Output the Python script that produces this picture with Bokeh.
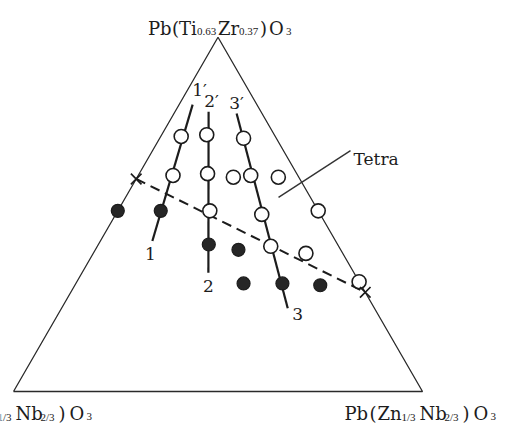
import numpy as np
from bokeh.plotting import figure
from bokeh.models import Range1d
from bokeh.core.properties import value
from bokeh.embed import file_html
from bokeh.resources import INLINE

H = np.sqrt(3) / 2  # height of the unit composition triangle

# Compositions given as mole fractions of Pb(Ti0.63Zr0.37)O3 (apex) and
# Pb(Zn1/3Nb2/3)O3 (right corner); the rest is Pb(Mg1/3Nb2/3)O3.
open_pzt = [0.72, 0.61, 0.725, 0.615, 0.51, 0.715, 0.605, 0.61, 0.605, 0.50, 0.51, 0.41, 0.39, 0.31]
open_pzn = [0.05, 0.085, 0.11, 0.167, 0.225, 0.205, 0.235, 0.275, 0.345, 0.357, 0.49, 0.424, 0.52, 0.69]
filled_pzt = [0.51, 0.51, 0.415, 0.40, 0.305, 0.305, 0.30]
filled_pzn = [0.0, 0.105, 0.27, 0.35, 0.41, 0.505, 0.60]

# composition lines 1-1', 2-2', 3-3' (ends at the primed / unprimed label)
line_names = ["1", "2", "3"]
line_top_pzt = [0.81, 0.79, 0.785]
line_top_pzn = [0.033, 0.082, 0.153]
line_bot_pzt = [0.425, 0.335, 0.235]
line_bot_pzn = [0.127, 0.309, 0.553]

# morphotropic boundary (dashed) end points on the two edges
mpb_pzt = [0.60, 0.28]
mpb_pzn = [0.0, 0.72]


def to_xy(pzt, pzn):
    pzt = np.asarray(pzt, float)
    pzn = np.asarray(pzn, float)
    return pzn + pzt / 2, pzt * H


p = figure(width=505, height=426, output_backend="svg", toolbar_location=None,
           x_range=Range1d(-13 / 409, 492 / 409), y_range=Range1d(-35 / 409, 391 / 409),
           x_axis_location=None, y_axis_location=None, min_border=0,
           outline_line_color=None, background_fill_color="white")
p.grid.visible = False

INK = "#1c1c1c"

# triangle frame
p.line([0, 1, 0.5, 0], [0, 0, H, 0], line_color="#2a2a2a", line_width=1.3)

# dashed boundary
mx, my = to_xy(mpb_pzt, mpb_pzn)
p.line(mx, my, line_color=INK, line_width=2, line_dash="10 6")

# composition lines
tx, ty = to_xy(line_top_pzt, line_top_pzn)
bx, by = to_xy(line_bot_pzt, line_bot_pzn)
p.segment(tx, ty, bx, by, line_color=INK, line_width=2.2)

# "Tetra" pointer
tetra_x, tetra_y = to_xy([0.548], [0.374])
p.segment(tetra_x, tetra_y, [0.824], [0.589], line_color="#333333", line_width=1.4)
p.text([0.824], [0.589], text=["Tetra"], x_offset=3, y_offset=8,
       text_font=value("DejaVu Serif"), text_font_size="17px", text_color=INK,
       text_baseline="alphabetic", text_align="left")

# measured points
ox, oy = to_xy(open_pzt, open_pzn)
p.scatter(ox, oy, marker="circle", size=14, fill_color="white", line_color=INK, line_width=1.6)
fx, fy = to_xy(filled_pzt, filled_pzn)
p.scatter(fx, fy, marker="circle", size=13, fill_color="#262626", line_color=INK, line_width=1.2)

# end marks of the boundary
p.scatter(mx, my, marker="x", size=15, line_color=INK, line_width=1.7)

# line labels
lbl = dict(text_font=value("DejaVu Serif"), text_font_size="17px", text_color=INK,
           text_align="center", text_baseline="middle")
p.text(tx, ty, text=[n + "\u2032" for n in line_names],
       x_offset=[7, 3, 0], y_offset=[-15, -11, -10], **lbl)
p.text(bx, by, text=line_names, x_offset=[-2, 0, 10], y_offset=[13, 13, 6], **lbl)


def formula(ax, ay, pieces, base_dy):
    """Formula drawn piece by piece; subscripts smaller and lowered."""
    main = [(t, dx) for t, dx, sub in pieces if not sub]
    subs = [(t, dx) for t, dx, sub in pieces if sub]
    p.text([ax] * len(main), [ay] * len(main), text=[t for t, _ in main],
           x_offset=[d for _, d in main], y_offset=base_dy,
           text_font=value("DejaVu Serif"), text_font_size="18px", text_color=INK,
           text_align="left", text_baseline="alphabetic")
    p.text([ax] * len(subs), [ay] * len(subs), text=[t for t, _ in subs],
           x_offset=[d for _, d in subs], y_offset=base_dy + 3,
           text_font=value("Liberation Serif"), text_font_size="11px", text_color=INK,
           text_align="left", text_baseline="alphabetic")


# apex: Pb(Ti0.63Zr0.37)O3
formula(0.5, H, [("Pb", -70, False), ("(", -46, False), ("Ti", -39, False),
                 ("0.63", -21, True), ("Zr", 0, False), ("0.37", 21, True),
                 (")", 42, False), ("O", 51, False), ("3", 68, True)], -9)
# right corner: Pb(Zn1/3Nb2/3)O3
formula(1.0, 0.0, [("Pb", -78, False), ("(", -53, False), ("Zn", -45, False),
                   ("1/3", -21, True), ("Nb", -3, False), ("2/3", 22, True),
                   (")", 40, False), ("O", 51, False), ("3", 68, True)], 22)
# left corner: Pb(Mg1/3Nb2/3)O3
formula(0.0, 0.0, [("Pb", -79, False), ("(", -54, False), ("Mg", -46, False),
                   ("1/3", -16, True), ("Nb", 2, False), ("2/3", 27, True),
                   (")", 45, False), ("O", 56, False), ("3", 73, True)], 22)

open("out.html", "w").write(file_html(p, INLINE))
